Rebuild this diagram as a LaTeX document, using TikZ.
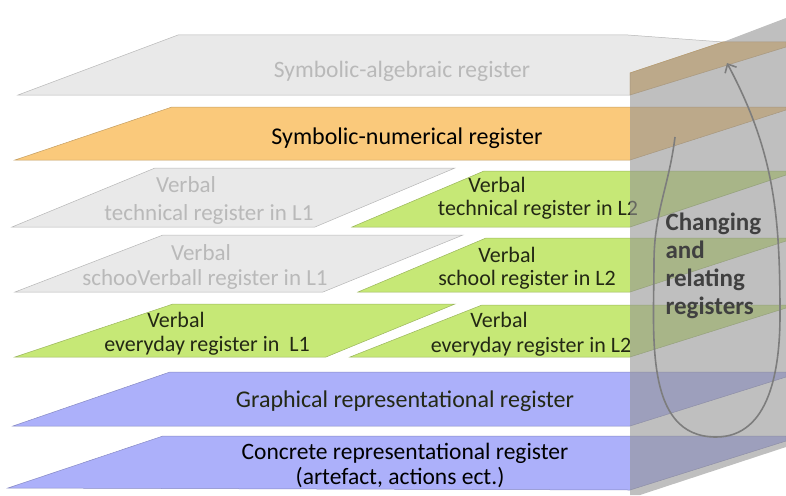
\documentclass[tikz,border=0pt]{standalone}
\usepackage{fontspec}
\setmainfont{Carlito}
\usepackage{tikz}
\usetikzlibrary{arrows.meta}
\definecolor{regpale}{RGB}{233,233,233}
\definecolor{regorange}{RGB}{250,201,123}
\definecolor{reggreen}{RGB}{198,232,118}
\definecolor{regblue}{RGB}{172,176,250}
\definecolor{planegray}{RGB}{148,148,148}
\definecolor{palefont}{RGB}{185,185,185}
\definecolor{darkfont}{RGB}{35,40,20}
\definecolor{loopgray}{RGB}{125,125,125}

\begin{document}
\begin{tikzpicture}[x=1pt, y=-1pt,
    layer/.style={draw=#1!78!black, line width=0.5pt, fill=#1},
    lbl/.style={anchor=base, text=darkfont, font=\fontsize{22}{26}\selectfont},
    palelbl/.style={lbl, text=palefont, font=\fontsize{23}{27}\selectfont},
    biglbl/.style={lbl, font=\fontsize{24}{28}\selectfont},
    plane/.style={fill=planegray, fill opacity=0.6},
    cyclearrow/.style={draw=loopgray, line width=1.6pt,
                       -{Straight Barb[length=7pt,width=13pt]}}
]
\useasboundingbox (0,0) rectangle (786,495);

% the register layers
\path[layer=regpale] (18,95) -- (178,35) -- (628,35) -- (723,42) -- (630,73) -- (630,95) -- cycle;
\path[layer=regorange] (630,73) -- (723,42) -- (786,42) -- (786,47) -- (630,95) -- cycle;
\path[layer=regorange] (15,160) -- (172,107) -- (786,107) -- (786,110) -- (630,160) -- cycle;
\path[layer=regpale] (12,227) -- (155,168) -- (455,168) -- (315,227) -- cycle;
\path[layer=reggreen] (352,227) -- (484,171) -- (786,171) -- (786,175) -- (630,227) -- cycle;
\path[layer=regpale] (15,292) -- (163,235) -- (463,235) -- (323,292) -- cycle;
\path[layer=reggreen] (358,292) -- (486,238) -- (786,238) -- (786,241) -- (630,292) -- cycle;
\path[layer=reggreen] (15,357) -- (173,304) -- (455,304) -- (326,357) -- cycle;
\path[layer=reggreen] (350,357) -- (482,305) -- (786,305) -- (786,308) -- (630,357) -- cycle;
\path[layer=regblue] (13,426) -- (170,372) -- (786,372) -- (786,377) -- (630,426) -- cycle;
\path[layer=regblue] (8,488) -- (163,436) -- (786,436) -- (786,441) -- (630,490) -- cycle;

\node[palelbl, font=\fontsize{23.5}{28}\selectfont] (alg) at (402,77) {Symbolic-algebraic register};
\node[biglbl, text=black] (num) at (407,144) {Symbolic-numerical register};
\node[palelbl] (techA) at (186,192) {Verbal};
\node[palelbl] (techB) at (209,220) {technical register in L1};
\node[lbl] (techC) at (497,192) {Verbal};
\node[lbl] (techD) at (538,215) {technical register in L2};
\node[palelbl] (schoolA) at (201,260) {Verbal};
\node[palelbl] (schoolB) at (205,285) {schooVerball register in L1};
\node[lbl] (schoolC) at (507,262) {Verbal};
\node[lbl] (schoolD) at (527,285) {school register in L2};
\node[lbl] (dayA) at (176,327) {Verbal};
\node[lbl] (dayB) at (207,351) {everyday register in\ \ L1};
\node[lbl] (dayC) at (499,327) {Verbal};
\node[lbl] (dayD) at (531,352) {everyday register in L2};
\node[biglbl] (graph) at (405,407) {Graphical representational register};
\node[biglbl, text=black, font=\fontsize{23.5}{28}\selectfont] (concA) at (405,459) {Concrete representational register};
\node[biglbl, text=black, font=\fontsize{23.5}{28}\selectfont] (concB) at (400,484) {(artefact, actions ect.)};

% the plane that cuts through all registers
\path[plane] (630,73) -- (723,42) -- (786,18) -- (786,447) -- (640,495) -- (630,495) -- cycle;

\coordinate (cstart) at (675,137);
\coordinate (cleft) at (654,262);
\coordinate (cbottom) at (716,437);
\coordinate (cright) at (780,315);
\coordinate (cend) at (727,63);
\draw[cyclearrow] (cstart) to[out=-97,in=90] (cleft) to[out=-90,in=180] (cbottom)
    to[out=0,in=-90] (cright) to[out=90,in=-62] (cend);

\node[anchor=north west, align=left, text=black!75,
      font=\bfseries\fontsize{25}{28}\selectfont] (change) at (662,209)
    {Changing\\and\\relating\\registers};
\end{tikzpicture}
\end{document}
